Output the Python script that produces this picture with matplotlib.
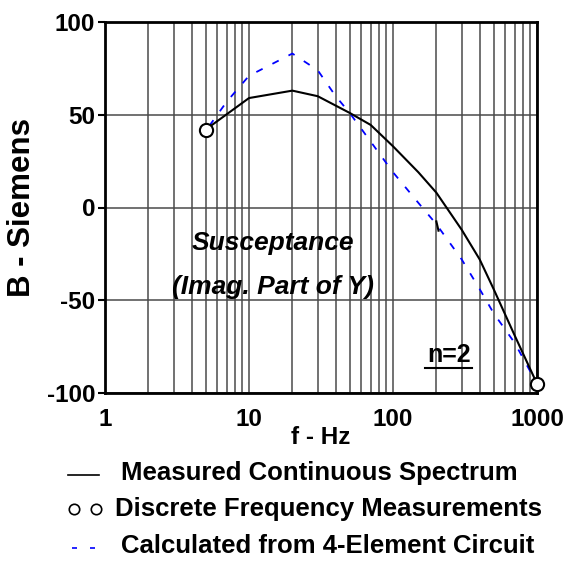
import matplotlib
matplotlib.use('Agg')
import matplotlib.pyplot as plt
from matplotlib.lines import Line2D
from matplotlib.ticker import LogLocator, FixedLocator

plt.rcParams['font.family'] = ['Liberation Sans', 'DejaVu Sans']
plt.rcParams['font.weight'] = 'bold'
plt.rcParams['axes.unicode_minus'] = False

# measured continuous spectrum (black solid)
meas_f = [5, 10, 20, 30, 50, 70, 100, 150, 200, 300, 400, 500, 700, 1000]
meas_b = [42, 59, 63, 60, 51, 44.5, 33, 19, 8, -12, -28, -44, -69, -95]

# discrete frequency measurements (open circles)
disc_f = [5, 1000]
disc_b = [42, -95]

# calculated from 4-element circuit (blue dashed)
calc_f = [5.3, 7, 10, 15, 20, 30, 40, 50, 70, 100, 150, 200, 300, 400, 500, 700, 1000]
calc_b = [44, 57, 71, 78, 83, 74, 60, 51, 35.5, 19, 2.5, -9, -28, -44, -57, -73, -95]

# short black dashed piece near 200 Hz
stub_f = [200, 207]
stub_b = [-7.5, -12.5]

W, H = 573, 561
fig = plt.figure(figsize=(W / 100, H / 100), dpi=100)
ax = fig.add_axes([105 / W, 1 - 393 / H, 432 / W, 371 / H])

ax.set_xscale('log')
ax.set_xlim(1, 1000)
ax.set_ylim(-100, 100)

ax.xaxis.set_major_locator(FixedLocator([1, 10, 100, 1000]))
ax.xaxis.set_minor_locator(LogLocator(base=10, subs=range(2, 10)))
ax.set_xticklabels(['1', '10', '100', '1000'])
ax.set_yticks([-100, -50, 0, 50, 100])

ax.grid(True, which='both', axis='x', color='#4a4a4a', lw=1.1)
ax.grid(True, which='major', axis='y', color='#4a4a4a', lw=1.1)
ax.set_axisbelow(True)

ax.plot(calc_f, calc_b, color='#0000ff', lw=1.3, dashes=(3.9, 6.1), zorder=3)
ax.plot(meas_f, meas_b, color='black', lw=1.5, zorder=4)
ax.plot(stub_f, stub_b, color='black', lw=1.5, zorder=4)
ax.plot(disc_f, disc_b, 'o', ms=9.5, mfc='white', mec='black', mew=1.5,
        clip_on=False, zorder=5)

for s in ax.spines.values():
    s.set_linewidth(2)

ax.tick_params(axis='y', which='major', length=5, width=1.5, labelsize=17.5, pad=2)
ax.tick_params(axis='x', which='both', length=0, labelsize=17.5, pad=11)

ax.set_ylabel('B - Siemens', fontsize=22.5, fontweight='bold', labelpad=7)
ax.set_xlabel('f - Hz', fontsize=17.5, fontweight='bold', labelpad=-4)

ax.text(14.7, -19, 'Susceptance', fontsize=19, fontweight='bold',
        style='italic', ha='center', va='center')
ax.text(14.7, -43, '(Imag. Part of Y)', fontsize=19, fontweight='bold',
        style='italic', ha='center', va='center')
ax.text(246, -79.5, 'n=2', fontsize=18, fontweight='bold', ha='center',
        va='center')
ax.plot([167, 356], [-86.3, -86.3], color='black', lw=1.5)

# legend drawn under the axes
tf = fig.transFigure
rows = [473, 509, 546]
fig.add_artist(Line2D([68 / W, 99 / W], [1 - 475 / H] * 2, color='black',
                      lw=1.2, transform=tf))
fig.add_artist(Line2D([73.5 / W, 96 / W], [1 - rows[1] / H] * 2, ls='none',
                      marker='o', ms=7.5, mfc='white', mec='black', mew=1.2,
                      transform=tf))
fig.add_artist(Line2D([72 / W, 95 / W], [1 - 548 / H] * 2, color='#0000ff',
                      lw=1.2, dashes=(3, 7.8), transform=tf))
labels = ['Measured Continuous Spectrum',
          'Discrete Frequency Measurements',
          'Calculated from 4-Element Circuit']
xs = [121, 115, 121]
for lab, x, y in zip(labels, xs, rows):
    fig.text(x / W, 1 - y / H, lab, fontsize=18.5, fontweight='bold',
             ha='left', va='center')

fig.savefig('out.png', dpi=100)
